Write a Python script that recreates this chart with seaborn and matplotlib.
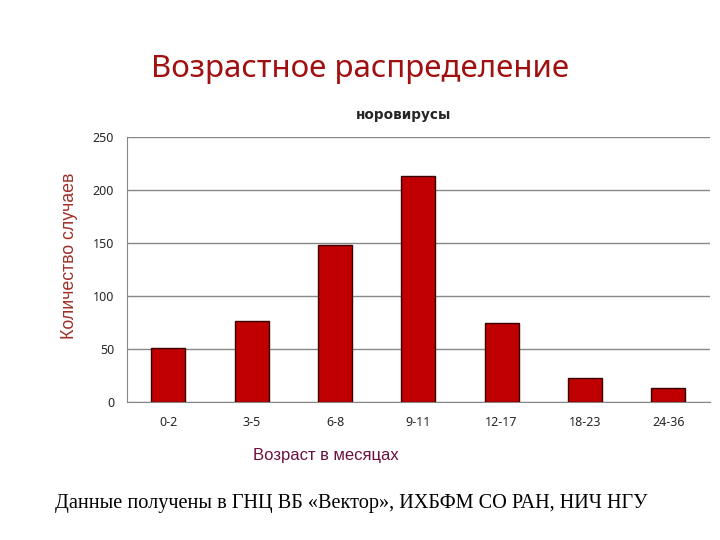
import matplotlib
matplotlib.use('Agg')
import matplotlib.pyplot as plt
import seaborn as sns
import pandas as pd

# данные
age_groups = ['0-2', '3-5', '6-8', '9-11', '12-17', '18-23', '24-36']
cases = [51, 76, 148, 213, 74, 22, 13]
y_ticks = [0, 50, 100, 150, 200, 250]

sns.set_style("white")
plt.rcParams['font.family'] = ['Noto Sans', 'DejaVu Sans']

df = pd.DataFrame({'age': age_groups, 'cases': cases})

fig = plt.figure(figsize=(7.2, 5.4), dpi=100)
ax = fig.add_axes([0.176, 0.256, 0.81, 0.49])

sns.barplot(data=df, x='age', y='cases', color='#C00000', saturation=1,
            width=0.41, edgecolor='#3a0000', linewidth=1, ax=ax, zorder=3)

ax.set_ylim(0, 250)
ax.set_yticks(y_ticks)
ax.set_xlim(-0.5, len(age_groups) - 0.5)
ax.yaxis.grid(True, color='#888888', linewidth=1, zorder=0)
ax.set_axisbelow(True)

for s in ['top', 'right']:
    ax.spines[s].set_visible(False)
for s in ['left', 'bottom']:
    ax.spines[s].set_color('#888888')

# метки делений между категориями
ax.set_xticks([i - 0.5 for i in range(len(age_groups) + 1)], minor=True)
ax.tick_params(axis='x', which='minor', length=5, color='#888888', direction='out')
ax.tick_params(axis='x', which='major', length=0, labelsize=9, pad=10)
ax.tick_params(axis='y', length=5, color='#888888', direction='out', labelsize=9, pad=4)

ax.set_xlabel('Возраст в месяцах', fontsize=12, color='#6B1040',
              family=['Liberation Sans', 'DejaVu Sans'])
ax.xaxis.set_label_coords(0.341, -0.175)
ax.set_ylabel('Количество случаев', fontsize=12.8, color='#A0302A',
              family=['Liberation Sans', 'DejaVu Sans'])
ax.yaxis.set_label_coords(-0.083, 0.55)

ax.text(0.474, 1.085, 'норовирусы', transform=ax.transAxes, ha='center', va='center',
        fontsize=9.8, fontweight='bold', family=['DejaVu Sans'])

fig.text(0.5, 0.872, 'Возрастное распределение', ha='center', va='center',
         fontsize=22.5, color='#A01010')
fig.text(0.076, 0.068, 'Данные получены в ГНЦ ВБ «Вектор», ИХБФМ СО РАН, НИЧ НГУ',
         ha='left', va='center', fontsize=14.6, color='black',
         family=['Liberation Serif', 'DejaVu Serif'])

fig.savefig('out.png', dpi=100)
